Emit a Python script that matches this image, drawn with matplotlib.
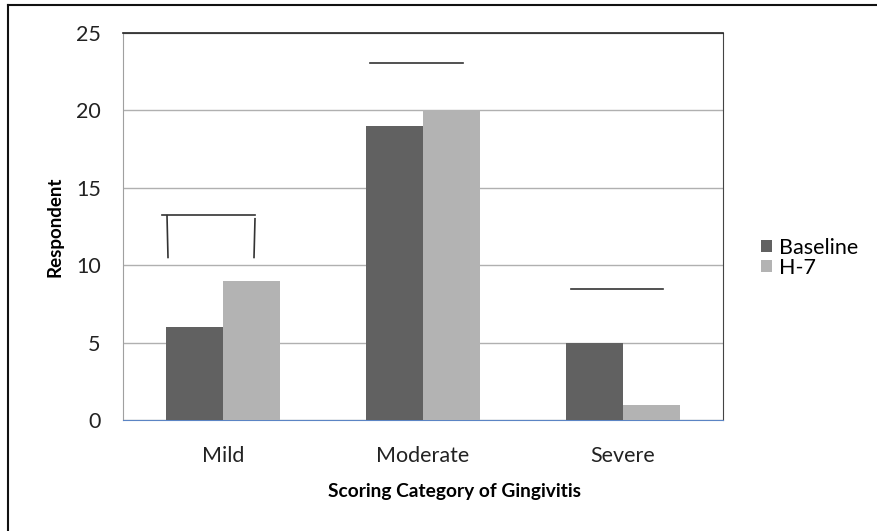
import matplotlib
matplotlib.use("Agg")
import matplotlib.pyplot as plt
from matplotlib.lines import Line2D
import numpy as np

categories = ["Mild", "Moderate", "Severe"]
baseline = [6, 19, 5]
h7 = [9, 20, 1]
series_names = ["Baseline", "H-7"]
yticks = [0, 5, 10, 15, 20, 25]

plt.rcParams['font.family'] = ['Lato', 'DejaVu Sans']

W, H = 877, 531
fig = plt.figure(figsize=(W/100, H/100), dpi=100)
ax = fig.add_axes([123/W, 1-420/H, 600/W, (420-33)/H])

x = np.arange(len(categories))
bw = 0.283
c_dark = "#616161"
c_light = "#b3b3b3"
ax.bar(x - bw/2, baseline, bw, color=c_dark, label=series_names[0], zorder=3)
ax.bar(x + bw/2, h7, bw, color=c_light, label=series_names[1], zorder=3)

ax.set_xlim(-0.5, 2.5)
ax.set_ylim(0, 25)
ax.set_yticks(yticks)
ax.set_xticks(x)
ax.set_xticklabels(categories)
ax.tick_params(length=0, labelsize=15.5, colors="#222222")
ax.tick_params(axis='y', pad=16)
ax.tick_params(axis='x', pad=19)
ax.yaxis.grid(True, color="#b0b0b0", linewidth=1, zorder=0)
ax.set_axisbelow(True)
ax.spines["left"].set_color("#a0a0a0")
ax.spines["bottom"].set_color("#5b84c4")
ax.spines["top"].set_color("#222222")
ax.spines["right"].set_color("#444444")
ax.spines["top"].set_linewidth(1.2)

ax.set_ylabel("Respondent", fontsize=13.5, fontweight="bold", labelpad=9)
ax.set_xlabel("Scoring Category of Gingivitis", fontsize=13.8, fontweight="bold")
ax.xaxis.set_label_coords((454 - 123) / 600, -(483 - 420) / (420 - 33))

# annotation lines
lk = dict(color="#333333", linewidth=1.2, zorder=4)
ax.plot([-0.305, 0.16], [13.25, 13.25], **lk)
ax.plot([-0.28, -0.275], [13.2, 10.5], **lk)
ax.plot([0.16, 0.155], [13.0, 10.5], **lk)
ax.plot([1 - 0.265, 1 + 0.2], [23.05, 23.05], **lk)
ax.plot([2 - 0.26, 2 + 0.2], [8.45, 8.45], **lk)

leg = fig.legend(loc="center left", bbox_to_anchor=(761/W, 1-258/H), frameon=False,
                 fontsize=15.5, handlelength=0.5, handleheight=0.5, handletextpad=0.35,
                 labelspacing=0.0, borderaxespad=0, borderpad=0)

# outer chart frame
fig.add_artist(Line2D([8/W, 8/W], [0, 1-5/H], transform=fig.transFigure, color="#111111", linewidth=1.5))
fig.add_artist(Line2D([8/W, 1], [1-5/H, 1-5/H], transform=fig.transFigure, color="#111111", linewidth=1.5))

fig.savefig("out.png", dpi=100, facecolor="white")
